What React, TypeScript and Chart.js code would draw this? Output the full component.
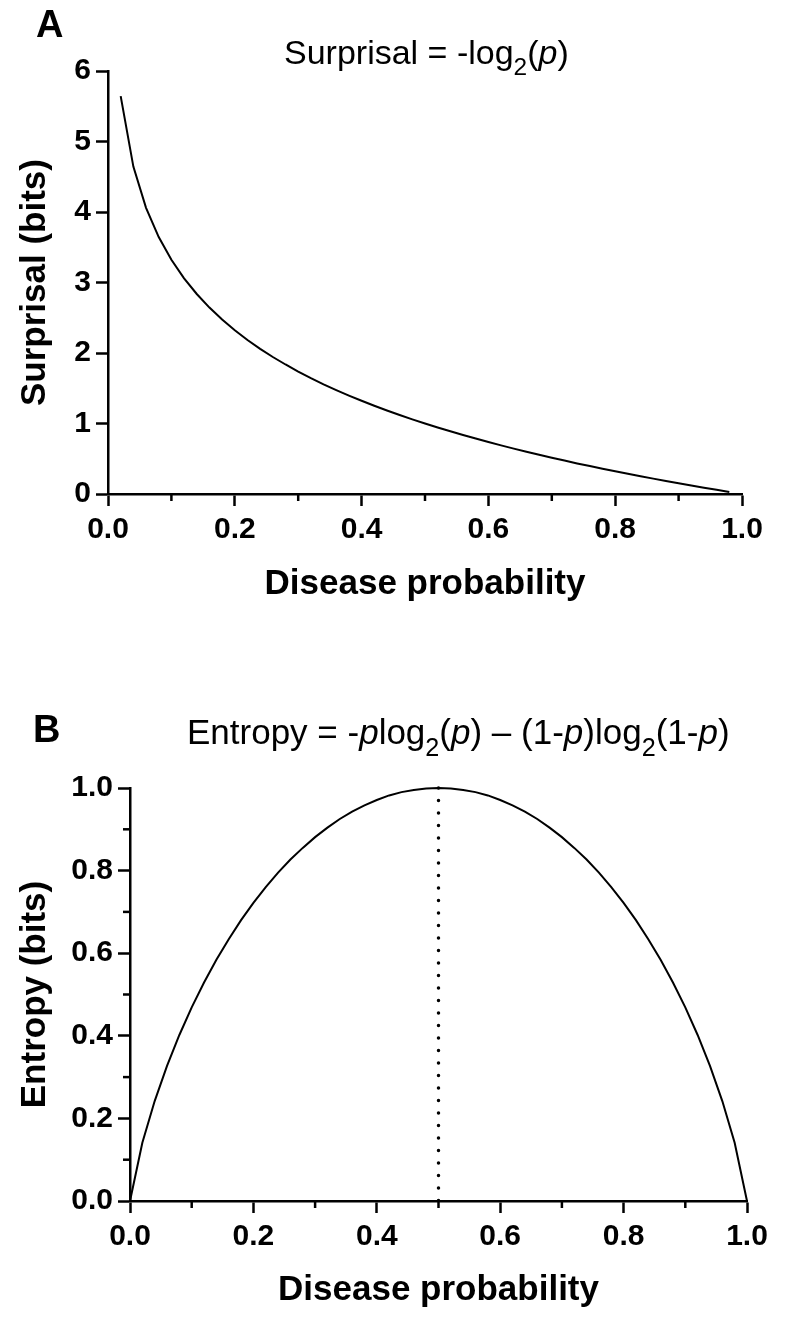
import React, { useEffect, useRef } from "react";
import { Chart, registerables } from "chart.js";

Chart.register(...registerables);

const FONT = '"Liberation Sans", Arial, Helvetica, sans-serif';

// Panel A: surprisal curve
const probA = [
  0.02, 0.04, 0.06, 0.08, 0.1, 0.12, 0.14, 0.16, 0.18, 0.2,
  0.22, 0.24, 0.26, 0.28, 0.3, 0.32, 0.34, 0.36, 0.38, 0.4,
  0.42, 0.44, 0.46, 0.48, 0.5, 0.52, 0.54, 0.56, 0.58, 0.6,
  0.62, 0.64, 0.66, 0.68, 0.7, 0.72, 0.74, 0.76, 0.78, 0.8,
  0.82, 0.84, 0.86, 0.88, 0.9, 0.92, 0.94, 0.96, 0.98,
];
const surprisal = [
  5.644, 4.644, 4.059, 3.644, 3.322, 3.059, 2.837, 2.644, 2.474, 2.322,
  2.184, 2.059, 1.943, 1.837, 1.737, 1.644, 1.556, 1.474, 1.396, 1.322,
  1.252, 1.184, 1.12, 1.059, 1.0, 0.943, 0.889, 0.837, 0.786, 0.737,
  0.69, 0.644, 0.599, 0.556, 0.515, 0.474, 0.434, 0.396, 0.358, 0.322,
  0.286, 0.252, 0.218, 0.184, 0.152, 0.12, 0.089, 0.059, 0.029,
];

// Panel B: entropy curve
const probB = [
  0, 0.02, 0.04, 0.06, 0.08, 0.1, 0.12, 0.14, 0.16, 0.18, 0.2,
  0.22, 0.24, 0.26, 0.28, 0.3, 0.32, 0.34, 0.36, 0.38, 0.4,
  0.42, 0.44, 0.46, 0.48, 0.5, 0.52, 0.54, 0.56, 0.58, 0.6,
  0.62, 0.64, 0.66, 0.68, 0.7, 0.72, 0.74, 0.76, 0.78, 0.8,
  0.82, 0.84, 0.86, 0.88, 0.9, 0.92, 0.94, 0.96, 0.98, 1,
];
const entropy = [
  0, 0.141, 0.242, 0.327, 0.402, 0.469, 0.529, 0.584, 0.634, 0.68, 0.722,
  0.76, 0.795, 0.827, 0.855, 0.881, 0.904, 0.925, 0.943, 0.958, 0.971,
  0.982, 0.99, 0.995, 0.999, 1.0, 0.999, 0.995, 0.99, 0.982, 0.971,
  0.958, 0.943, 0.925, 0.904, 0.881, 0.855, 0.827, 0.795, 0.76, 0.722,
  0.68, 0.634, 0.584, 0.529, 0.469, 0.402, 0.327, 0.242, 0.141, 0,
];

// Dotted marker at p = 0.5
const markerX = [0.5, 0.5];
const markerY = [1, 0];

type Seg = { t: string; italic?: boolean; sub?: boolean };

const titleA: Seg[] = [
  { t: "Surprisal = -log" },
  { t: "2", sub: true },
  { t: "(" },
  { t: "p", italic: true },
  { t: ")" },
];
const titleB: Seg[] = [
  { t: "Entropy = -" },
  { t: "p", italic: true },
  { t: "log" },
  { t: "2", sub: true },
  { t: "(" },
  { t: "p", italic: true },
  { t: ") \u2013 (1-" },
  { t: "p", italic: true },
  { t: ")log" },
  { t: "2", sub: true },
  { t: "(1-" },
  { t: "p", italic: true },
  { t: ")" },
];

type DecorCfg = {
  panel: string;
  panelX: number;
  panelY: number;
  panelSize: number;
  title: Seg[];
  titleX: number;
  titleY: number;
  titleSize: number;
  minor: string[];
};

function makeDecor(cfg: DecorCfg) {
  return {
    id: "decor",
    afterDraw(chart: any) {
      const ctx = chart.ctx as CanvasRenderingContext2D;
      ctx.save();
      ctx.fillStyle = "#000";
      ctx.textAlign = "left";
      ctx.textBaseline = "alphabetic";
      ctx.font = `bold ${cfg.panelSize}px ${FONT}`;
      ctx.fillText(cfg.panel, cfg.panelX, cfg.panelY);
      let x = cfg.titleX;
      for (const s of cfg.title) {
        const size = s.sub ? cfg.titleSize * 0.72 : cfg.titleSize;
        ctx.font = `${s.italic ? "italic " : ""}${size}px ${FONT}`;
        const y = s.sub ? cfg.titleY + cfg.titleSize * 0.33 : cfg.titleY;
        ctx.fillText(s.t, x, y);
        x += ctx.measureText(s.t).width;
      }
      ctx.strokeStyle = "#000";
      ctx.lineWidth = 2.5;
      for (const id of cfg.minor) {
        const scale = chart.scales[id];
        scale.ticks.forEach((_t: any, i: number) => {
          if (i % 2 === 0) return;
          const p = scale.getPixelForTick(i);
          ctx.beginPath();
          if (scale.isHorizontal()) {
            ctx.moveTo(p, scale.top);
            ctx.lineTo(p, scale.top + 7);
          } else {
            ctx.moveTo(scale.right, p);
            ctx.lineTo(scale.right - 7, p);
          }
          ctx.stroke();
        });
      }
      ctx.restore();
    },
  };
}

const tickFont = { family: FONT, size: 30, weight: "bold" as const };
const titleFont = { family: FONT, size: 35, weight: "bold" as const };

function gridOpts(minorEveryOther: boolean) {
  return {
    display: true,
    drawOnChartArea: false,
    drawTicks: true,
    tickLength: 12,
    tickWidth: 2.5,
    tickColor: (c: any) =>
      !minorEveryOther || c.index % 2 === 0 ? "#000" : "rgba(0,0,0,0)",
  };
}

const border = { display: true, color: "#000", width: 2.5 };

const fmtTenths = (v: any) =>
  Math.round(Number(v) * 10) % 2 === 0 ? Number(v).toFixed(1) : "";

function ChartPanel(props: { top: number; height: number; config: any }) {
  const ref = useRef<HTMLCanvasElement | null>(null);
  useEffect(() => {
    if (!ref.current) return;
    const chart = new Chart(ref.current, props.config);
    return () => chart.destroy();
  }, []);
  return (
    <canvas
      ref={ref}
      width={794}
      height={props.height}
      style={{
        position: "absolute",
        left: 0,
        top: props.top,
        width: 794,
        height: props.height,
      }}
    />
  );
}

const configA = {
  type: "line",
  data: {
    datasets: [
      {
        data: probA.map((p, i) => ({ x: p, y: surprisal[i] })),
        borderColor: "#000",
        borderWidth: 2,
        pointRadius: 0,
        tension: 0,
        fill: false,
        clip: false,
      },
    ],
  },
  options: {
    animation: false,
    responsive: false,
    devicePixelRatio: 1,
    layout: { padding: { top: 71, left: 0, right: 52, bottom: 0 } },
    plugins: {
      legend: { display: false },
      tooltip: { enabled: false },
      title: { display: false },
    },
    scales: {
      x: {
        type: "linear",
        min: 0,
        max: 1,
        afterFit: (s: any) => {
          s.height = 146;
        },
        ticks: {
          stepSize: 0.1,
          autoSkip: false,
          maxRotation: 0,
          padding: 6,
          color: "#000",
          font: tickFont,
          callback: fmtTenths,
        },
        grid: gridOpts(true),
        border,
        title: {
          display: true,
          text: "Disease probability",
          color: "#000",
          font: titleFont,
          padding: { top: 0, bottom: 35 },
        },
      },
      y: {
        type: "linear",
        min: 0,
        max: 6,
        afterFit: (s: any) => {
          s.width = 108;
        },
        ticks: {
          stepSize: 1,
          autoSkip: false,
          padding: 5,
          color: "#000",
          font: tickFont,
          callback: (v: any) => String(Math.round(Number(v))),
        },
        grid: gridOpts(false),
        border,
        title: {
          display: true,
          text: "Surprisal (bits)",
          color: "#000",
          font: titleFont,
          padding: { top: 14, bottom: 0 },
        },
      },
    },
  },
  plugins: [
    makeDecor({
      panel: "A",
      panelX: 36,
      panelY: 37,
      panelSize: 38,
      title: titleA,
      titleX: 284,
      titleY: 64,
      titleSize: 34,
      minor: ["x"],
    }),
  ],
};

const configB = {
  type: "line",
  data: {
    datasets: [
      {
        data: probB.map((p, i) => ({ x: p, y: entropy[i] })),
        borderColor: "#000",
        borderWidth: 2,
        pointRadius: 0,
        tension: 0,
        fill: false,
        clip: false,
      },
      {
        data: markerX.map((p, i) => ({ x: p, y: markerY[i] })),
        borderColor: "#000",
        borderWidth: 3.5,
        borderDash: [0, 12.5],
        borderCapStyle: "round",
        pointRadius: 0,
        tension: 0,
        fill: false,
        clip: false,
      },
    ],
  },
  options: {
    animation: false,
    responsive: false,
    devicePixelRatio: 1,
    layout: { padding: { top: 148, left: 0, right: 47, bottom: 0 } },
    plugins: {
      legend: { display: false },
      tooltip: { enabled: false },
      title: { display: false },
    },
    scales: {
      x: {
        type: "linear",
        min: 0,
        max: 1,
        afterFit: (s: any) => {
          s.height = 121;
        },
        ticks: {
          stepSize: 0.1,
          autoSkip: false,
          maxRotation: 0,
          padding: 6,
          color: "#000",
          font: tickFont,
          callback: fmtTenths,
        },
        grid: gridOpts(true),
        border,
        title: {
          display: true,
          text: "Disease probability",
          color: "#000",
          font: titleFont,
          padding: { top: 0, bottom: 11 },
        },
      },
      y: {
        type: "linear",
        min: 0,
        max: 1,
        afterFit: (s: any) => {
          s.width = 130;
        },
        ticks: {
          stepSize: 0.1,
          autoSkip: false,
          padding: 5,
          color: "#000",
          font: tickFont,
          callback: fmtTenths,
        },
        grid: gridOpts(true),
        border,
        title: {
          display: true,
          text: "Entropy (bits)",
          color: "#000",
          font: titleFont,
          padding: { top: 14, bottom: 0 },
        },
      },
    },
  },
  plugins: [
    makeDecor({
      panel: "B",
      panelX: 33,
      panelY: 102,
      panelSize: 38,
      title: titleB,
      titleX: 187,
      titleY: 104,
      titleSize: 35,
      minor: ["x", "y"],
    }),
  ],
};

export default function App() {
  return (
    <div
      style={{
        position: "absolute",
        left: 0,
        top: 0,
        width: 794,
        height: 1322,
        background: "#fff",
      }}
    >
      <ChartPanel top={0} height={640} config={configA} />
      <ChartPanel top={640} height={682} config={configB} />
    </div>
  );
}
